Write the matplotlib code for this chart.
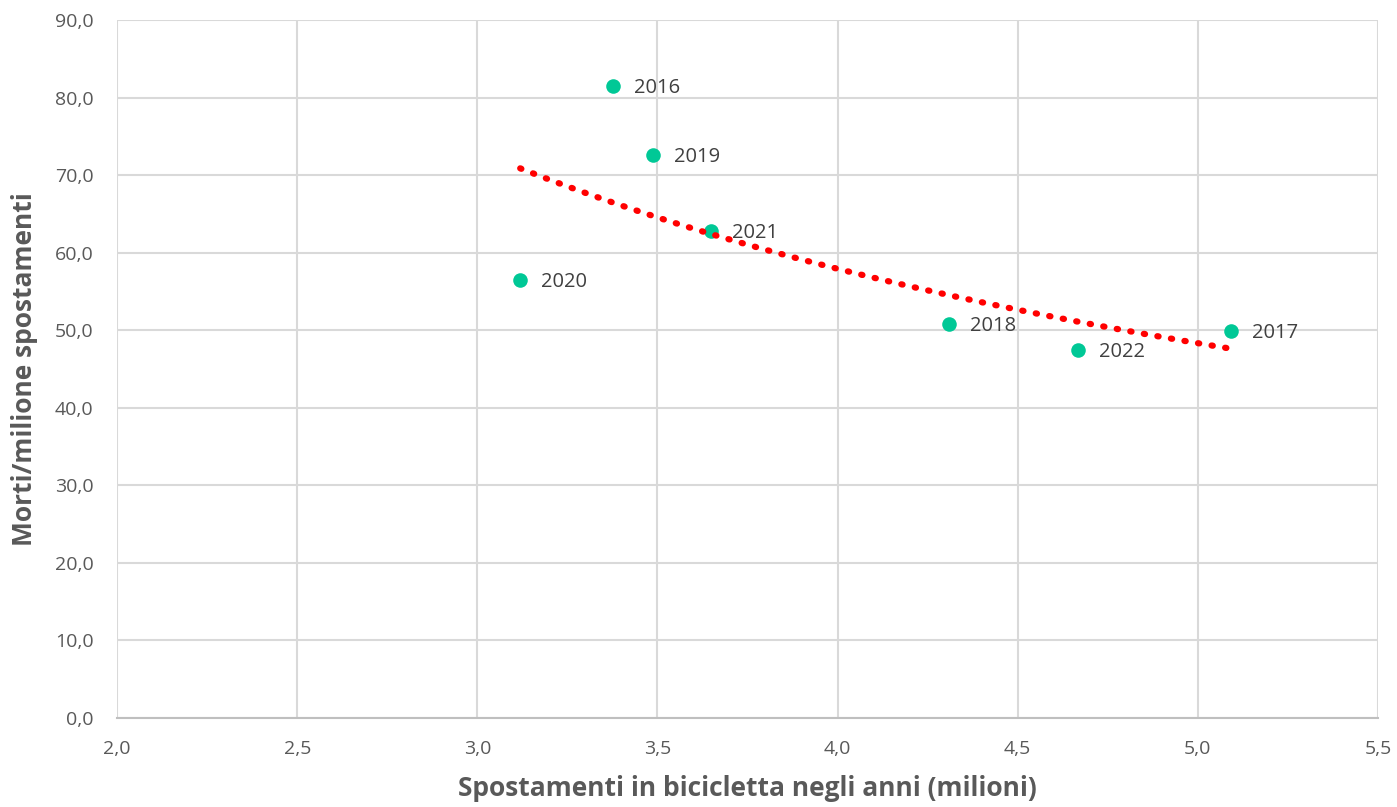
import numpy as np
import matplotlib.pyplot as plt

# spostamenti (milioni) e morti per milione di spostamenti
years = ['2016', '2017', '2018', '2019', '2020', '2021', '2022']
trips = [3.377, 5.093, 4.310, 3.488, 3.119, 3.649, 4.668]
deaths = [81.5, 49.9, 50.8, 72.6, 56.5, 62.8, 47.4]

plt.rcParams['font.family'] = ['Open Sans', 'DejaVu Sans']

fig = plt.figure(figsize=(13.97, 8.07), dpi=100)
ax = fig.add_axes([0.0838, 0.1103, 0.9026, 0.8649])

ax.scatter(trips, deaths, s=110, color='#00C896', zorder=3, linewidths=0)
for x, y, lab in zip(trips, deaths, years):
    ax.annotate(lab, (x, y), xytext=(15, -1.5), textcoords='offset points',
                fontsize=14.5, color='#404040', va='center')

# linea di tendenza (potenza)
b, a = np.polyfit(np.log(trips), np.log(deaths), 1)
xt = np.linspace(min(trips), max(trips), 200)
ax.plot(xt, np.exp(a) * xt ** b, color='#FF0000', linewidth=4.5,
        linestyle=(0, (0.2, 2.0)), dash_capstyle='round', zorder=4)

ax.set_xlim(2.0, 5.5)
ax.set_ylim(0, 90)
ax.set_xticks(np.arange(2.0, 5.51, 0.5))
ax.set_yticks(np.arange(0, 90.1, 10))
ax.set_xticklabels([f'{v:.1f}'.replace('.', ',') for v in np.arange(2.0, 5.51, 0.5)])
ax.set_yticklabels([f'{v:.1f}'.replace('.', ',') for v in np.arange(0, 90.1, 10)])
ax.tick_params(length=0, labelsize=14, labelcolor='#595959')
ax.tick_params(axis='x', pad=16)
ax.tick_params(axis='y', pad=17)
ax.grid(True, color='#D9D9D9', linewidth=1.5)
ax.set_axisbelow(True)
for sp in ['top', 'right', 'left']:
    ax.spines[sp].set_visible(False)
ax.spines['bottom'].set_color('#BFBFBF')
ax.spines['bottom'].set_linewidth(1.5)

ax.set_xlabel('Spostamenti in bicicletta negli anni (milioni)', fontsize=19,
              fontweight='bold', color='#595959', labelpad=12)
ax.set_ylabel('Morti/milione spostamenti', fontsize=19, fontweight='bold',
              color='#595959', labelpad=12)

plt.savefig('out.png', dpi=100)
